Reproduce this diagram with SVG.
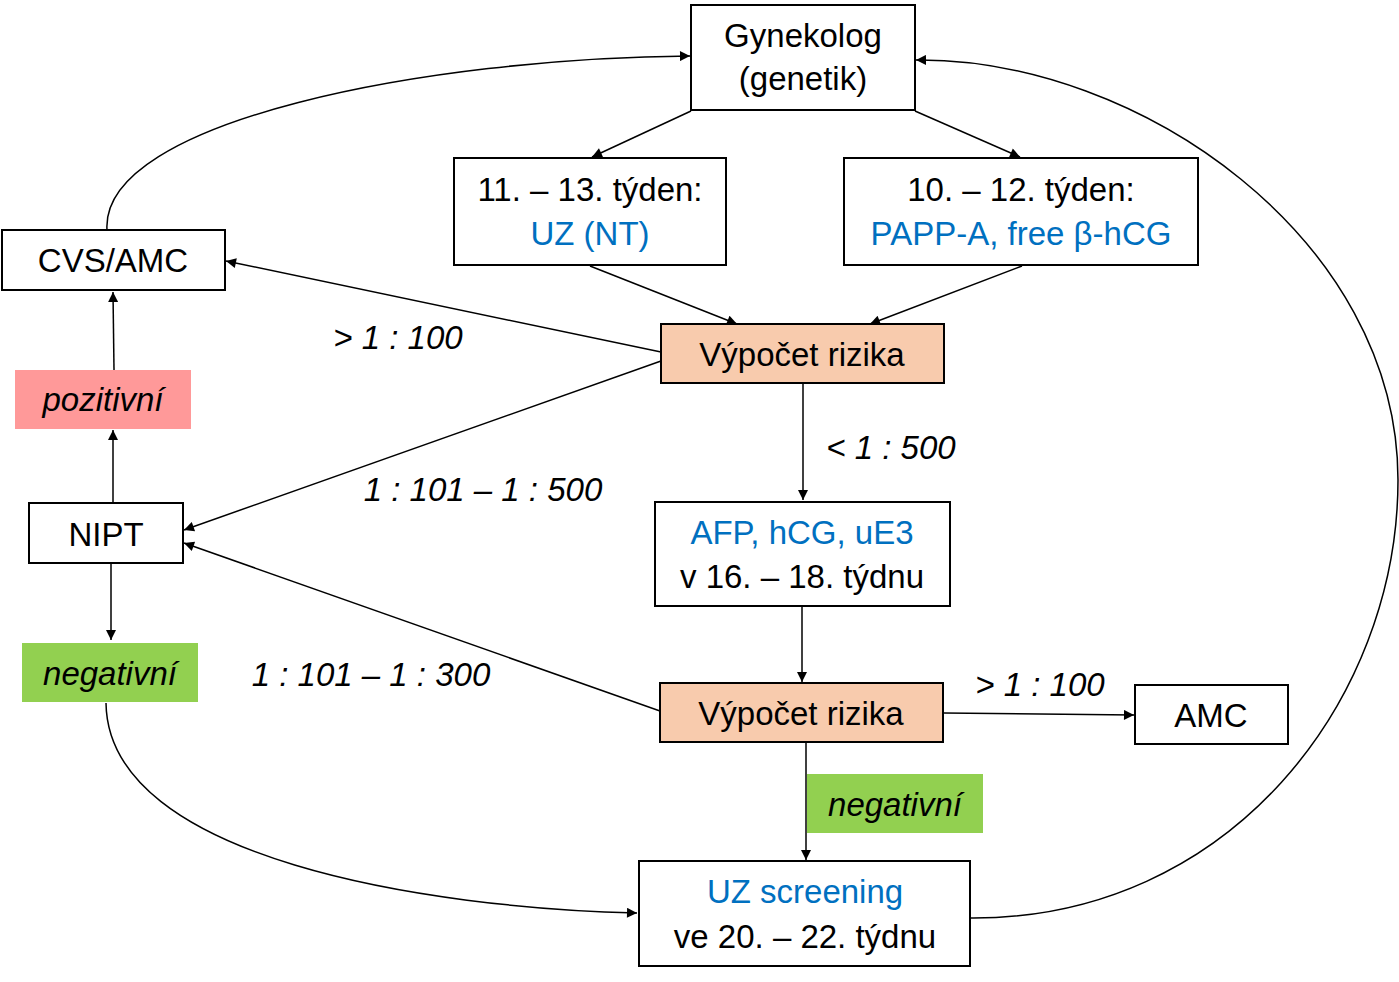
<svg xmlns="http://www.w3.org/2000/svg" width="1399" height="982" viewBox="0 0 1399 982">
<style>
.box{fill:#fff;stroke:#000;stroke-width:2}
.risk{fill:#F8CBAD;stroke:#000;stroke-width:2}
.pos{fill:#FF9999}
.neg{fill:#92D050}
text{font-family:"Liberation Sans",Arial,sans-serif;font-size:33px;fill:#000;text-anchor:middle}
.blue{fill:#0070C0}
.it{font-style:italic}
.conn path,.conn line{fill:none;stroke:#000;stroke-width:1.5;marker-end:url(#ah)}
</style>
<defs>
<marker id="ah" viewBox="0 0 10 10" refX="10" refY="5" markerWidth="11" markerHeight="10" markerUnits="userSpaceOnUse" orient="auto">
<path d="M0,0 L10,5 L0,10 z" fill="#000"/>
</marker>
</defs>
<rect width="1399" height="982" fill="#fff"/>
<g class="conn" id="connectors">
<line x1="691" y1="111" x2="592" y2="157"/>
<line x1="915" y1="111" x2="1020" y2="157"/>
<line x1="590" y1="266" x2="737" y2="324"/>
<line x1="1022" y1="266" x2="870" y2="324"/>
<line x1="661" y1="352" x2="226" y2="261"/>
<line x1="661" y1="361" x2="184" y2="530"/>
<line x1="803" y1="384" x2="803" y2="500"/>
<line x1="802" y1="607" x2="802" y2="682"/>
<line x1="660" y1="711" x2="184" y2="543"/>
<line x1="944" y1="713" x2="1134" y2="715"/>
<line x1="806" y1="743" x2="806" y2="860"/>
<line x1="113" y1="503" x2="113" y2="430"/>
<line x1="114" y1="370" x2="113" y2="292"/>
<line x1="111" y1="564" x2="111" y2="640"/>
<path d="M106,703 C108,860 430,908 637,913"/>
<path d="M107,230 C100,120 430,58 690,56"/>
<path d="M970,918 C1230,920 1398,700 1398,480 C1398,240 1140,58 916,60"/>
</g>
<g id="gynekolog"><rect class="box" x="691" y="5" width="224" height="105"/><text x="803" y="47">Gynekolog</text><text x="803" y="90">(genetik)</text></g>
<g id="t1113"><rect class="box" x="454" y="158" width="272" height="107"/><text x="590" y="201">11. – 13. týden:</text><text class="blue" x="590" y="245">UZ (NT)</text></g>
<g id="t1012"><rect class="box" x="844" y="158" width="354" height="107"/><text x="1021" y="201">10. – 12. týden:</text><text class="blue" x="1021" y="245">PAPP-A, free β-hCG</text></g>
<g id="cvs"><rect class="box" x="2" y="230" width="223" height="60"/><text x="113" y="272">CVS/AMC</text></g>
<g id="risk1"><rect class="risk" x="661" y="324" width="283" height="59"/><text x="802" y="366">Výpočet rizika</text></g>
<g id="pozitivni"><rect class="pos" x="15" y="370" width="176" height="59"/><text class="it" x="103" y="411">pozitivní</text></g>
<g id="nipt"><rect class="box" x="29" y="503" width="154" height="60"/><text x="106" y="546">NIPT</text></g>
<g id="afp"><rect class="box" x="655" y="502" width="295" height="104"/><text class="blue" x="802" y="544">AFP, hCG, uE3</text><text x="802" y="588">v 16. – 18. týdnu</text></g>
<g id="negativni1"><rect class="neg" x="22" y="643" width="176" height="59"/><text class="it" x="110" y="685">negativní</text></g>
<g id="risk2"><rect class="risk" x="660" y="683" width="283" height="59"/><text x="801" y="725">Výpočet rizika</text></g>
<g id="amc"><rect class="box" x="1135" y="685" width="153" height="59"/><text x="1211" y="727">AMC</text></g>
<g id="negativni2"><rect class="neg" x="807" y="774" width="176" height="59"/><text class="it" x="895" y="816">negativní</text></g>
<g id="uzscreening"><rect class="box" x="639" y="861" width="331" height="105"/><text class="blue" x="805" y="903">UZ screening</text><text x="805" y="948">ve 20. – 22. týdnu</text></g>
<g id="labels">
<text class="it" x="398" y="349">&gt; 1 : 100</text>
<text class="it" x="891" y="459">&lt; 1 : 500</text>
<text class="it" x="483" y="501">1 : 101 – 1 : 500</text>
<text class="it" x="371" y="686">1 : 101 – 1 : 300</text>
<text class="it" x="1040" y="696">&gt; 1 : 100</text>
</g>
</svg>
